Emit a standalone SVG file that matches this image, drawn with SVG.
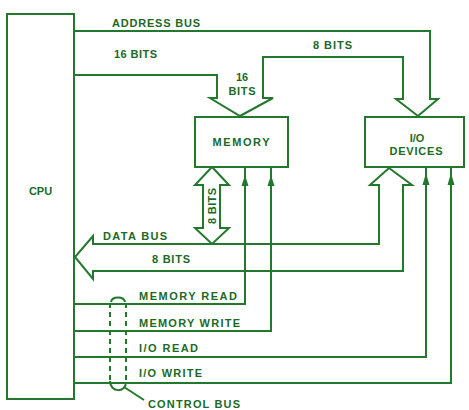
<svg xmlns="http://www.w3.org/2000/svg" width="469" height="410" viewBox="0 0 469 410">
<defs>
<style>
.ln{fill:none;stroke:#24782e;stroke-width:2;stroke-linejoin:miter}
.bx{fill:#fff;stroke:#24782e;stroke-width:2}
.ah{fill:#24782e;stroke:none}
.t{font-family:"Liberation Sans",Arial,sans-serif;font-weight:bold;font-size:11px;fill:#1c6a26}
.c{text-anchor:middle}
.dash{fill:none;stroke:#24782e;stroke-width:2;stroke-dasharray:5,4}
</style>
</defs>
<rect width="469" height="410" fill="#fff"/>
<g id="connectors">
<!-- address bus -->
<polyline class="ln" points="74,31 430,31 430,99 438,99 418,116 396,99 403,99 403,57 263,57 263,98 273,98 240,116 210,98 217,98 217,75 74,75"/>
<!-- data bus -->
<polygon class="ln" points="379,244 379,185 370,185 389,168 412,185 403,185 403,271 93,271 93,279 75,257 93,236 93,244"/>
<!-- memory data arrow -->
<polygon class="ln" points="212,167 229,185 220,185 220,228 229,228 212,244 195,228 203,228 203,185 195,185"/>
<!-- control lines -->
<polyline class="ln" points="74,304 245,304 245,167"/>
<polyline class="ln" points="74,331 271,331 271,167"/>
<polyline class="ln" points="74,357 426,357 426,167"/>
<polyline class="ln" points="74,383 451,383 451,167"/>
<polygon class="ah" points="245,175 241.5,186 248.5,186"/>
<polygon class="ah" points="271,175 267.5,186 274.5,186"/>
<polygon class="ah" points="426,173 422.5,185 429.5,185"/>
<polygon class="ah" points="451,173 447.5,185 454.5,185"/>
<!-- control bus marker -->
<line class="dash" x1="110" y1="303" x2="110" y2="381"/>
<line class="dash" x1="126" y1="303" x2="126" y2="381"/>
<path class="ln" d="M111,302 C112,296 124,296 125,302" stroke-width="1.6"/>
<path class="ln" d="M110,381 C110,393 126,393 126,382" stroke-width="1.6"/>
<path class="ln" d="M124,387 L144,400" stroke-width="1.6"/>
</g>
<g id="cpu">
<rect class="bx" x="7" y="14" width="67" height="385"/>
<text class="t c" x="40.5" y="195">CPU</text>
</g>
<g id="memory">
<rect class="bx" x="195" y="117" width="93" height="50"/>
<text class="t c" x="241" y="146" textLength="57" lengthAdjust="spacing">MEMORY</text>
</g>
<g id="io">
<rect class="bx" x="365" y="117" width="99" height="50"/>
<text class="t c" x="417" y="142">I/O</text>
<text class="t c" x="416" y="155" textLength="53" lengthAdjust="spacing">DEVICES</text>
</g>
<g id="labels">
<text class="t" x="112" y="27" textLength="88" lengthAdjust="spacing">ADDRESS BUS</text>
<text class="t" x="114" y="58" textLength="43" lengthAdjust="spacing">16 BITS</text>
<text class="t" x="313" y="49" textLength="39" lengthAdjust="spacing">8 BITS</text>
<text class="t c" x="242" y="81">16</text>
<text class="t c" x="242" y="95" textLength="27" lengthAdjust="spacing">BITS</text>
<text class="t c" transform="translate(216,206) rotate(-90)" textLength="36" lengthAdjust="spacing" x="0" y="0">8 BITS</text>
<text class="t" x="103" y="240" textLength="64" lengthAdjust="spacing">DATA BUS</text>
<text class="t" x="152" y="263" textLength="38" lengthAdjust="spacing">8 BITS</text>
<text class="t" x="139" y="300" textLength="98" lengthAdjust="spacing">MEMORY READ</text>
<text class="t" x="139" y="327" textLength="101" lengthAdjust="spacing">MEMORY WRITE</text>
<text class="t" x="139" y="352" textLength="59" lengthAdjust="spacing">I/O READ</text>
<text class="t" x="139" y="377" textLength="63" lengthAdjust="spacing">I/O WRITE</text>
<text class="t" x="148" y="408" textLength="92" lengthAdjust="spacing">CONTROL BUS</text>
</g>
</svg>
